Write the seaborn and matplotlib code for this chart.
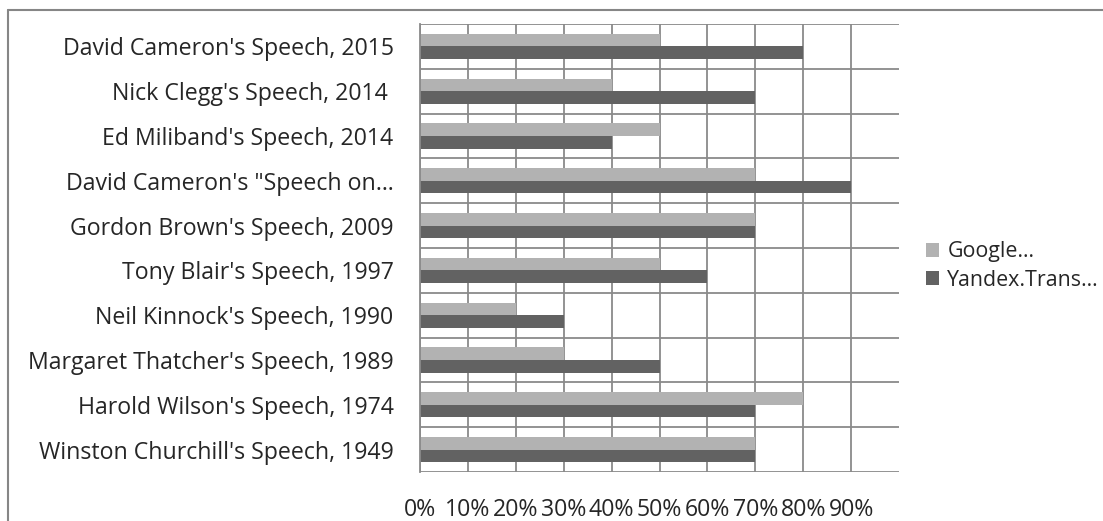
import pandas as pd
import matplotlib.pyplot as plt
import seaborn as sns
from matplotlib.lines import Line2D

# data (share of speech, top to bottom)
speeches = [
    "David Cameron's Speech, 2015",
    "Nick Clegg's Speech, 2014 ",
    "Ed Miliband's Speech, 2014",
    "David Cameron's \"Speech on\u2026",
    "Gordon Brown's Speech, 2009",
    "Tony Blair's Speech, 1997",
    "Neil Kinnock's Speech, 1990",
    "Margaret Thatcher's Speech, 1989",
    "Harold Wilson's Speech, 1974",
    "Winston Churchill's Speech, 1949",
]
google = [0.5, 0.4, 0.5, 0.7, 0.7, 0.5, 0.2, 0.3, 0.8, 0.7]
yandex = [0.8, 0.7, 0.4, 0.9, 0.7, 0.6, 0.3, 0.5, 0.7, 0.7]
series_names = ["Google\u2026", "Yandex.Trans\u2026"]
xticks = [0, 0.1, 0.2, 0.3, 0.4, 0.5, 0.6, 0.7, 0.8, 0.9]

df = pd.DataFrame({
    "speech": speeches * 2,
    "value": google + yandex,
    "engine": [series_names[0]] * len(speeches) + [series_names[1]] * len(speeches),
})

sns.set_style("white")
plt.rcParams["font.family"] = ["Open Sans", "DejaVu Sans"]
fs = 16.7

grid_col = "#8a8a8a"
fig = plt.figure(figsize=(11.03, 5.21), dpi=100)
ax = fig.add_axes([420 / 1103, 1 - 472 / 521, 479 / 1103, 448 / 521])

sns.barplot(data=df, y="speech", x="value", hue="engine", order=speeches,
            hue_order=series_names, palette=["#b2b2b2", "#626262"],
            width=0.56, orient="h", linewidth=0, ax=ax, zorder=1)

ax.set_xlim(0, 1)
ax.set_ylim(len(speeches) - 0.5, -0.5)
ax.set_xticks(xticks)
ax.set_xticklabels([f"{int(round(t * 100))}%" for t in xticks], fontsize=fs)
ax.set_yticks(range(len(speeches)))
ax.set_yticklabels(speeches, fontsize=fs)
ax.set_yticks([i - 0.5 for i in range(len(speeches) + 1)], minor=True)
ax.set_xlabel("")
ax.set_ylabel("")

ax.tick_params(axis="y", which="major", length=0, pad=19)
ax.tick_params(axis="y", which="minor", length=6.5, color=grid_col, width=1.3)
ax.tick_params(axis="x", which="major", length=6, color=grid_col, width=1.3, pad=13)
ax.grid(False)
ax.xaxis.grid(True, which="major", color=grid_col, linewidth=1.3, zorder=0)
ax.yaxis.grid(True, which="minor", color=grid_col, linewidth=1.3, zorder=0)
ax.set_axisbelow(True)
for side in ["top", "right", "bottom"]:
    ax.spines[side].set_visible(False)
ax.spines["left"].set_color(grid_col)
ax.spines["left"].set_linewidth(1.3)

leg = ax.legend(loc="center left", bbox_to_anchor=(926 / 1103, 1 - 266 / 521),
                bbox_transform=fig.transFigure, frameon=False, fontsize=15.4,
                handlelength=0.6, handleheight=0.6, handletextpad=0.4,
                labelspacing=0.35, borderaxespad=0, borderpad=0)

# outer chart frame (right and bottom edges fall outside the picture)
fig.add_artist(Line2D([8 / 1103, 1], [1 - 10 / 521, 1 - 10 / 521],
                      transform=fig.transFigure, color="#868686", linewidth=1.5))
fig.add_artist(Line2D([8 / 1103, 8 / 1103], [0, 1 - 10 / 521],
                      transform=fig.transFigure, color="#868686", linewidth=1.5))

fig.savefig("out.png", dpi=100)
